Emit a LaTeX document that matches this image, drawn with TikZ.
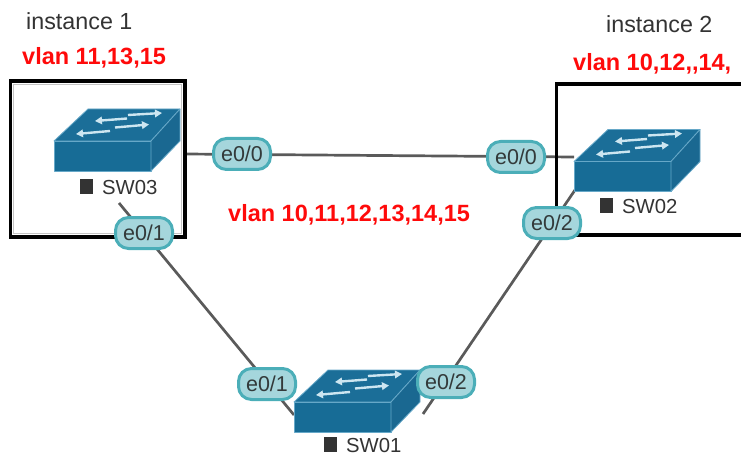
\documentclass[tikz,border=0pt]{standalone}
\usepackage{fontspec}
\setmainfont{Liberation Sans}
\usetikzlibrary{arrows.meta}
\definecolor{swtop}{HTML}{1B6E98}
\definecolor{swfront}{HTML}{176C96}
\definecolor{swside}{HTML}{1A6891}
\definecolor{swedge}{HTML}{66A8C8}
\definecolor{swarrow}{HTML}{CDE6F1}
\definecolor{pillfill}{HTML}{A5D6DC}
\definecolor{pillborder}{HTML}{4BAEB8}
\definecolor{linkgray}{HTML}{5A5A5A}
\definecolor{txtdark}{HTML}{333333}
\definecolor{pilltext}{HTML}{333A3A}
\definecolor{sqgray}{HTML}{333333}
\definecolor{vlanred}{HTML}{FF0A0A}
\definecolor{innergray}{HTML}{C4C4C4}
\tikzset{
 pill/.style={draw=pillborder, line width=3pt, fill=pillfill, rounded corners=13pt,
   minimum width=57pt, minimum height=31pt, inner sep=0pt, text=pilltext,
   font=\fontsize{21.5}{21.5}\selectfont},
 link/.style={draw=linkgray, line width=2.7pt},
 frame/.style={draw=black, line width=3.4pt},
 swlabel/.style={anchor=base west, inner sep=0pt, text=txtdark, font=\fontsize{20.3}{20}\selectfont},
 title/.style={anchor=base west, inner sep=0pt, text=txtdark, font=\fontsize{23.3}{24}\selectfont},
 vlan/.style={anchor=base west, inner sep=0pt, text=vlanred, font=\bfseries\fontsize{23.5}{24}\selectfont},
 swarr/.style={draw=swarrow, line width=2.4pt, -{Triangle[length=7pt,width=7.5pt]}},
 switchicon/.pic={
   \path[fill=swtop, draw=swedge, line width=0.8pt, line join=round] (0,0) -- (34,-32) -- (126,-32) -- (97,0) -- cycle;
   \path[fill=swfront, draw=swedge, line width=0.8pt, line join=round] (0,0) rectangle (97,30);
   \path[fill=swside, draw=swedge, line width=0.8pt, line join=round] (97,0) -- (126,-32) -- (126,0) -- (97,30) -- cycle;
   \draw[swarr] (74,-26) -- (108,-28);
   \draw[swarr] (73,-22.5) -- (41,-20);
   \draw[swarr] (61,-13.5) -- (95,-16.5);
   \draw[swarr] (56,-10) -- (22,-7);
 }
}
\begin{document}
\begin{tikzpicture}[x=1pt,y=-1pt]
\useasboundingbox (0,0) rectangle (741,457);
\clip (0,0) rectangle (741,457);
% connector end points
\coordinate (sw03r) at (185,154);
\coordinate (sw02l) at (574,157);
\coordinate (sw03b) at (119,203);
\coordinate (sw01l) at (294,415);
\coordinate (sw02b) at (575,190);
\coordinate (sw01r) at (423,414);
% links
\draw[link] (sw03r) -- (sw02l);
\draw[link] (sw03b) -- (sw01l);
\draw[link] (sw02b) -- (sw01r);
% instance frames
\draw[innergray, line width=1pt] (13.4,84.4) rectangle (181.6,233.6);
\draw[frame] (10.4,81) rectangle (185,237);
\draw[frame] (750,84) -- (556.5,84) -- (556.5,235) -- (750,235);
% switches
\pic (sw03) at (54,141) {switchicon};
\pic (sw02) at (574,161.5) {switchicon};
\pic (sw01) at (294,402) {switchicon};
\node[swlabel] (sw03lbl) at (80,194) {\textcolor{sqgray}{\rule{13pt}{15pt}}\hspace{9pt}SW03};
\node[swlabel] (sw02lbl) at (600,213) {\textcolor{sqgray}{\rule{13pt}{15pt}}\hspace{9pt}SW02};
\node[swlabel] (sw01lbl) at (324,452) {\textcolor{sqgray}{\rule{13pt}{15pt}}\hspace{9pt}SW01};
% port labels
\node[pill] (p03a) at (242,154) {e0/0};
\node[pill] (p02a) at (516,157) {e0/0};
\node[pill] (p03b) at (144,233) {e0/1};
\node[pill] (p02b) at (552,223) {e0/2};
\node[pill] (p01a) at (267,384) {e0/1};
\node[pill] (p01b) at (446,382) {e0/2};
% texts
\node[title] (inst1) at (26,30) {instance 1};
\node[vlan] (vl1) at (22,65) {vlan 11,13,15};
\node[title] (inst2) at (606,33) {instance 2};
\node[vlan] (vl2) at (573,71) {vlan 10,12,\kern0pt,14,};
\node[vlan] (vlall) at (228,222) {vlan 10,11,12,13,14,15};
\end{tikzpicture}
\end{document}
